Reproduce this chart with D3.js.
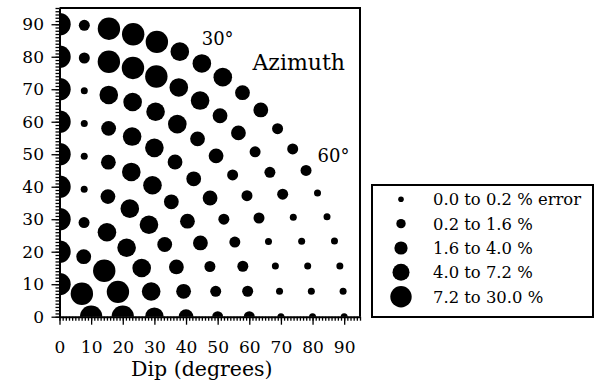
<!DOCTYPE html>
<html>
<head>
<meta charset="utf-8">
<script src="https://cdn.jsdelivr.net/npm/d3@7"></script>
<style>
  body { margin: 0; background: #fff; }
  svg { display: block; font-family: "DejaVu Serif", serif; }
</style>
</head>
<body>
<svg id="chart" width="599" height="383"></svg>
<script>
// error class (1 = smallest .. 5 = largest) of each dot on a dip circle,
// listed from azimuth 0 (vertical axis) round to azimuth 90 (dip axis)
const dip10 = [5, 5, 5];
const dip20 = [5, 3, 5, 5, 5];
const dip30 = [5, 2, 4, 4, 4, 4, 4];
const dip40 = [5, 1, 3, 4, 4, 3, 3, 3, 3];
const dip50 = [5, 1, 3, 4, 4, 3, 3, 3, 2, 2, 2];
const dip60 = [5, 1, 3, 4, 4, 3, 3, 3, 2, 2, 2, 2, 2];
const dip70 = [5, 1, 4, 4, 4, 4, 3, 3, 2, 2, 2, 1, 1, 1, 1];
const dip80 = [5, 2, 5, 5, 5, 4, 4, 3, 3, 2, 2, 2, 1, 1, 1, 1, 1];
const dip90 = [5, 2, 5, 5, 5, 4, 4, 4, 3, 3, 2, 2, 2, 1, 1, 1, 1, 1, 1];

const dips = [10, 20, 30, 40, 50, 60, 70, 80, 90];
const rows = [dip10, dip20, dip30, dip40, dip50, dip60, dip70, dip80, dip90];

const tickValues = [0, 10, 20, 30, 40, 50, 60, 70, 80, 90];
const azimuthMarks = [30, 60];
const classes = [1, 2, 3, 4, 5];
const legendLabels = ["0.0 to 0.2 % error", "0.2 to 1.6 %", "1.6 to 4.0 %", "4.0 to 7.2 %", "7.2 to 30.0 %"];

const svg = d3.select("#chart");
const plot = {left: 59.5, right: 360, top: 8, bottom: 316.7};

const x = d3.scaleLinear().domain([0, 95]).range([plot.left, plot.right]);
const y = d3.scaleLinear().domain([0, 95]).range([plot.bottom, plot.top]);
const r = d3.scaleOrdinal().domain(classes).range([3.5, 5.5, 7.4, 9.3, 11.2]);
const rLegend = d3.scaleOrdinal().domain(classes).range([2.8, 4.7, 6.6, 8.5, 10.7]);
const rad = Math.PI / 180;

// flatten the circles into dots
const points = [];
rows.forEach((row, k) => {
  const step = 90 / (row.length - 1);
  row.forEach((cls, j) => points.push({dip: dips[k], az: j * step, cls: cls}));
});

svg.append("defs").append("clipPath").attr("id", "clip")
  .append("rect")
  .attr("x", plot.left).attr("y", plot.top)
  .attr("width", plot.right - plot.left).attr("height", plot.bottom - plot.top);

svg.append("g")
  .attr("clip-path", "url(#clip)")
  .selectAll("circle")
  .data(points)
  .enter().append("circle")
  .attr("cx", d => x(d.dip * Math.sin(d.az * rad)))
  .attr("cy", d => y(d.dip * Math.cos(d.az * rad)))
  .attr("r", d => r(d.cls))
  .attr("fill", "#000");

// minor ticks every degree
svg.append("g")
  .attr("transform", "translate(0," + plot.bottom + ")")
  .call(d3.axisBottom(x).tickValues(d3.range(0, 96)).tickSize(4).tickFormat("").tickSizeOuter(0))
  .call(g => g.select(".domain").remove());
svg.append("g")
  .attr("transform", "translate(" + plot.left + ",0)")
  .call(d3.axisLeft(y).tickValues(d3.range(0, 96)).tickSize(4).tickFormat("").tickSizeOuter(0))
  .call(g => g.select(".domain").remove());

const xAxis = svg.append("g")
  .attr("transform", "translate(0," + plot.bottom + ")")
  .call(d3.axisBottom(x).tickValues(tickValues).tickSize(8).tickPadding(16).tickSizeOuter(0));
const yAxis = svg.append("g")
  .attr("transform", "translate(" + plot.left + ",0)")
  .call(d3.axisLeft(y).tickValues(tickValues).tickSize(8).tickPadding(7.5).tickSizeOuter(0));

svg.selectAll(".tick line").attr("stroke", "#000").attr("stroke-width", 1.3);
[xAxis, yAxis].forEach(a => {
  a.select(".domain").attr("stroke-width", 2);
  a.selectAll("text").attr("font-family", "DejaVu Serif").attr("font-size", 17).attr("fill", "#000");
});

// top and right frame
svg.append("path")
  .attr("d", "M" + plot.left + "," + plot.top + "H" + plot.right + "V" + plot.bottom)
  .attr("fill", "none").attr("stroke", "#000").attr("stroke-width", 2);

svg.append("text")
  .attr("x", x(45)).attr("y", 376)
  .attr("text-anchor", "middle").attr("font-size", 20.5)
  .text("Dip (degrees)");

svg.selectAll(".az-mark")
  .data(azimuthMarks)
  .enter().append("text")
  .attr("class", "az-mark")
  .attr("x", d => x(100 * Math.sin(d * rad)))
  .attr("y", d => y(99 * Math.cos(d * rad)))
  .attr("dy", "0.36em")
  .attr("text-anchor", "middle").attr("font-size", 18)
  .text(d => d + "°");

svg.append("text")
  .attr("x", x(61)).attr("y", y(76))
  .attr("font-size", 22)
  .text("Azimuth");

// legend
const legend = svg.append("g");
legend.append("rect")
  .attr("x", 372).attr("y", 185).attr("width", 221).attr("height", 132)
  .attr("fill", "none").attr("stroke", "#000").attr("stroke-width", 2);
const item = legend.selectAll(".item")
  .data(classes)
  .enter().append("g")
  .attr("class", "item")
  .attr("transform", (d, i) => "translate(401," + (199.3 + i * 24.35) + ")");
item.append("circle").attr("r", d => rLegend(d)).attr("fill", "#000");
item.append("text")
  .attr("x", 32).attr("dy", "0.36em")
  .attr("font-size", 16.4)
  .text((d, i) => legendLabels[i]);
</script>
</body>
</html>
